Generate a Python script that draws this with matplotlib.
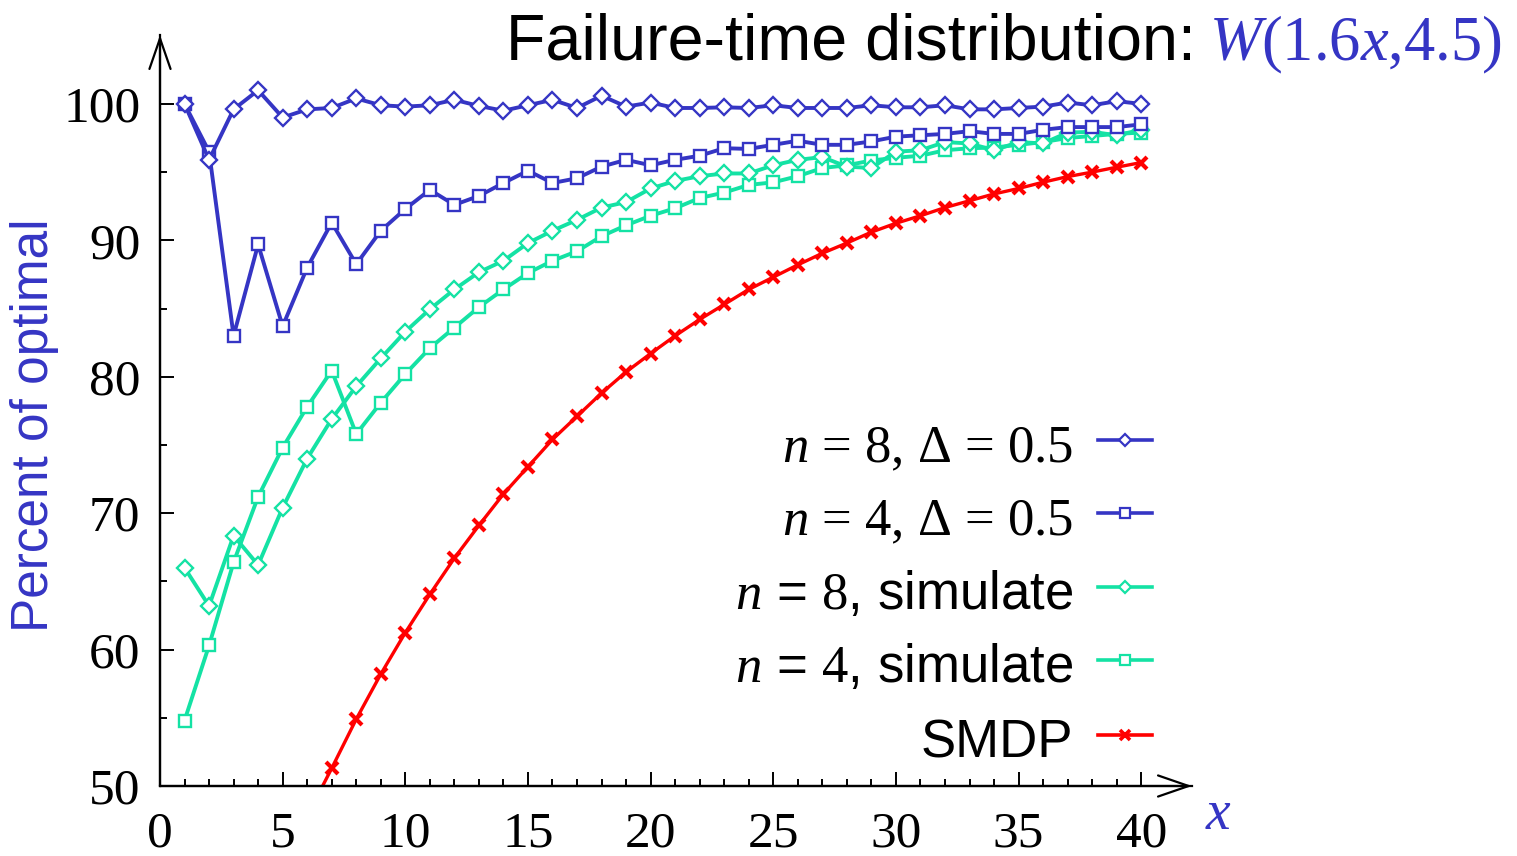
import numpy as np
import matplotlib.pyplot as plt
from matplotlib.lines import Line2D

plt.rcParams['font.family'] = ['Liberation Sans', 'DejaVu Sans']
plt.rcParams['mathtext.fontset'] = 'custom'
plt.rcParams['mathtext.rm'] = 'Liberation Serif'
plt.rcParams['mathtext.it'] = 'Liberation Serif:italic'

blue = '#3535c4'
teal = '#14e2a4'
red = '#ff0000'

# data
x = np.arange(1, 41)
n8_delta = [100.0, 95.9, 99.6, 101.0, 99.0, 99.6, 99.7, 100.4, 99.9, 99.8,
            99.9, 100.3, 99.85, 99.5, 99.9, 100.3, 99.7, 100.6, 99.8, 100.1,
            99.7, 99.7, 99.75, 99.7, 99.9, 99.7, 99.7, 99.7, 99.9, 99.75,
            99.75, 99.9, 99.6, 99.6, 99.7, 99.8, 100.1, 99.9, 100.2, 100.0]
n4_delta = [100.0, 96.5, 83.0, 89.7, 83.7, 88.0, 91.3, 88.25, 90.7, 92.3,
            93.7, 92.6, 93.25, 94.2, 95.1, 94.2, 94.55, 95.4, 95.9, 95.5,
            95.9, 96.2, 96.75, 96.7, 97.0, 97.3, 97.0, 97.0, 97.25, 97.6,
            97.7, 97.8, 98.0, 97.8, 97.8, 98.1, 98.3, 98.3, 98.3, 98.5]
n8_sim = [66.0, 63.2, 68.35, 66.2, 70.4, 74.0, 76.9, 79.3, 81.35, 83.3,
          84.95, 86.4, 87.66, 88.5, 89.8, 90.7, 91.5, 92.4, 92.8, 93.8,
          94.35, 94.7, 94.9, 94.9, 95.5, 95.9, 96.1, 95.4, 95.3, 96.5,
          96.6, 97.2, 97.1, 96.6, 97.2, 97.1, 97.9, 97.95, 97.7, 98.1]
n4_sim = [54.8, 60.3, 66.4, 71.2, 74.8, 77.8, 80.45, 75.8, 78.1, 80.2,
          82.1, 83.6, 85.1, 86.4, 87.6, 88.5, 89.2, 90.3, 91.1, 91.8,
          92.35, 93.1, 93.5, 94.06, 94.25, 94.7, 95.3, 95.5, 95.85, 96.05,
          96.2, 96.6, 96.75, 96.8, 97.0, 97.2, 97.5, 97.65, 97.8, 97.9]
x_smdp = np.arange(6, 41)
smdp = [47.8, 51.3, 54.9, 58.2, 61.24, 64.05, 66.7, 69.1, 71.4, 73.4,
        75.4, 77.1, 78.8, 80.35, 81.7, 83.0, 84.2, 85.3, 86.4, 87.3,
        88.2, 89.05, 89.8, 90.6, 91.25, 91.8, 92.4, 92.9, 93.4, 93.8,
        94.26, 94.67, 95.0, 95.36, 95.7]

labels = [r'$n$ = 8, Δ = 0.5', r'$n$ = 4, Δ = 0.5',
          r'$n$ = $8$, simulate', r'$n$ = $4$, simulate', 'SMDP']
label_fonts = ['Liberation Serif', 'Liberation Serif',
               'Liberation Sans', 'Liberation Sans', 'Liberation Sans']

W, H = 1517, 856
fig = plt.figure(figsize=(W / 100, H / 100), dpi=100)
ax = fig.add_axes([160 / W, 70 / H, 1032 / W, 751 / H])

styles = [
    (n8_delta, blue, 'D', 8.0),
    (n4_delta, blue, 's', 8.5),
    (n8_sim, teal, 'D', 8.0),
    (n4_sim, teal, 's', 8.5),
]
ax.plot(x_smdp, smdp, color=red, lw=2.4, marker='x', ms=8, mew=3, zorder=2)
for vals, c, m, ms in styles[::-1]:
    ax.plot(x, vals, color=c, lw=2.8, marker=m, ms=ms, mfc='white',
            mec=c, mew=1.7, zorder=3)

ax.set_xlim(0, 42.07)
ax.set_ylim(50, 105.05)
ax.set_xticks(range(0, 41, 5))
ax.set_xticks(range(0, 41), minor=True)
ax.set_yticks(range(50, 101, 10))
ax.set_yticks(range(55, 100, 10), minor=True)
for s in ['top', 'right']:
    ax.spines[s].set_visible(False)
for s in ['left', 'bottom']:
    ax.spines[s].set_linewidth(1.6)
ax.tick_params(which='major', direction='in', length=10, width=1.4, pad=14,
               labelsize=37)
ax.tick_params(which='minor', direction='in', length=5, width=1.4)
ax.tick_params(axis='x', which='major', pad=18)
for lab in ax.get_xticklabels() + ax.get_yticklabels():
    lab.set_fontfamily('Liberation Serif')

# axis arrows
arrow = dict(arrowstyle='->,head_length=1.1,head_width=0.38', lw=1.6,
             color='black', shrinkA=0, shrinkB=0, mutation_scale=20)
ax.annotate('', xy=(1, 0), xytext=(0, 0), xycoords='axes fraction',
            arrowprops=arrow, annotation_clip=False)
ax.annotate('', xy=(0, 1), xytext=(0, 0), xycoords='axes fraction',
            arrowprops=arrow, annotation_clip=False)

fig.text(35 / W, 1 - 425 / H, 'Percent of optimal', rotation=90,
         color=blue, fontsize=37, ha='center', va='center')
fig.text(1218 / W, 1 - 815 / H, '$x$', color=blue, fontsize=40,
         ha='center', va='center')

# title: black text followed by blue formula
t2 = fig.text(1502 / W, 1 - 60 / H, r'$W(1.6x{,}4.5)$', color=blue,
              fontsize=45, ha='right', va='baseline')
fig.canvas.draw()
bb = t2.get_window_extent()
fig.text((bb.x0 - 14) / W, 1 - 60 / H, 'Failure-time distribution:',
         color='black', fontsize=46.5, ha='right', va='baseline')

# legend, text right-aligned with handle on the right
rows = [440, 513, 587, 660, 735]
handles = [(blue, 'D', 6.5), (blue, 's', 7), (teal, 'D', 6.5),
           (teal, 's', 7), (red, 'x', 6.5)]
for yy, lab, fam, (c, m, ms) in zip(rows, labels, label_fonts, handles):
    fig.text(1073 / W, 1 - (yy + 22) / H, lab, fontsize=38, ha='right',
             va='baseline', family=fam)
    fig.add_artist(Line2D([1098 / W, 1152 / W], [1 - yy / H, 1 - yy / H],
                          color=c, lw=2.6, transform=fig.transFigure))
    fig.add_artist(Line2D([1125 / W], [1 - yy / H], color=c, marker=m,
                          ms=ms, mfc='white', mec=c,
                          mew=2.6 if m == 'x' else 1.6,
                          transform=fig.transFigure))

fig.savefig('out.png', dpi=100)
